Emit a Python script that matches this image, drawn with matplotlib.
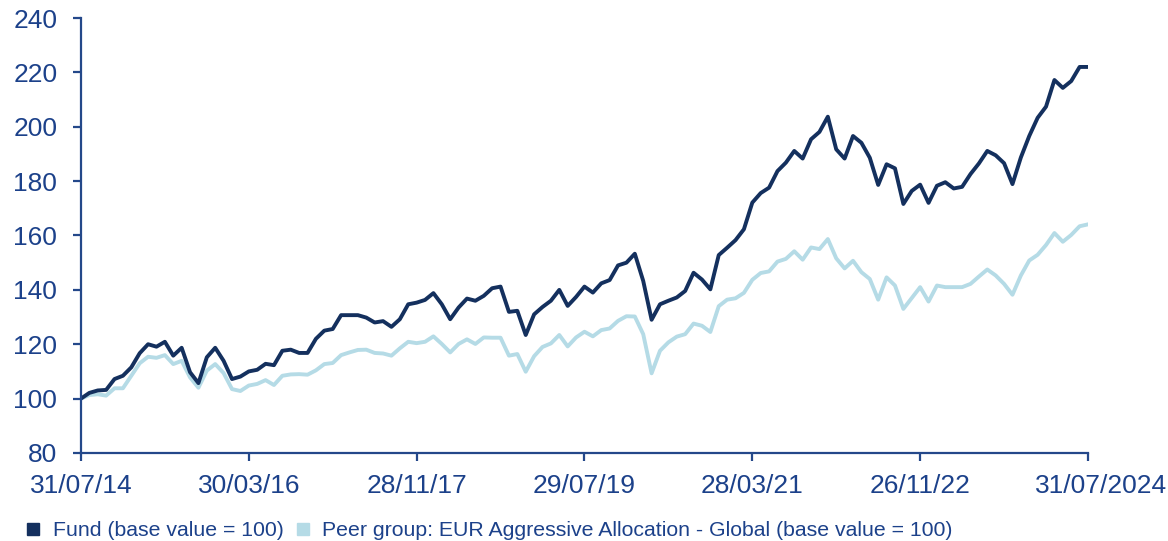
import matplotlib
matplotlib.use('Agg')
import matplotlib.pyplot as plt
import matplotlib.transforms as mtransforms
from matplotlib.lines import Line2D

plt.rcParams['font.family'] = ['Liberation Sans', 'DejaVu Sans']

# monthly index values, 31/07/2014 .. 31/07/2024
fund = [100.0, 102.1, 103.0, 103.2, 107.2, 108.4, 111.5, 116.7, 120.0, 119.1,
        120.9, 115.8, 118.7, 109.7, 105.7, 115.2, 118.7, 113.9, 107.2, 108.1,
        110.0, 110.6, 112.8, 112.3, 117.6, 118.0, 116.8, 116.8, 122.0, 125.0,
        125.6, 130.7, 130.7, 130.7, 129.8, 128.0, 128.5, 126.4, 129.2, 134.7,
        135.3, 136.3, 138.8, 134.7, 129.2, 133.5, 136.8, 136.0, 137.8, 140.6,
        141.2, 131.9, 132.3, 123.4, 131.0, 133.7, 136.0, 140.0, 134.1, 137.4,
        141.2, 139.0, 142.4, 143.6, 149.0, 150.0, 153.3, 143.3, 129.0, 134.7,
        136.0, 137.2, 139.6, 146.3, 143.8, 140.2, 152.8, 155.5, 158.3, 162.3,
        172.1, 175.6, 177.6, 183.7, 186.8, 191.1, 188.3, 195.4, 198.1, 203.7,
        191.7, 188.3, 196.6, 194.1, 188.6, 178.6, 186.2, 184.7, 171.6, 176.4,
        178.7, 172.0, 178.3, 179.6, 177.3, 177.9, 182.6, 186.5, 191.1, 189.5,
        186.6, 178.9, 188.7, 196.6, 203.3, 207.4, 217.2, 214.3, 216.8, 222.0,
        222.0]

peer = [100.0, 101.3, 101.6, 101.1, 103.8, 103.8, 108.4, 113.0, 115.4, 115.0,
        116.0, 112.7, 113.9, 107.8, 104.0, 110.3, 112.7, 109.4, 103.5, 102.8,
        104.8, 105.4, 106.8, 105.0, 108.4, 108.9, 109.0, 108.8, 110.4, 112.7,
        113.1, 116.0, 117.0, 117.9, 118.0, 116.8, 116.6, 115.8, 118.5, 120.9,
        120.4, 120.9, 122.9, 120.1, 117.0, 120.1, 121.8, 120.1, 122.5, 122.4,
        122.4, 115.8, 116.4, 109.9, 115.6, 119.0, 120.3, 123.4, 119.2, 122.5,
        124.6, 122.9, 125.2, 125.8, 128.6, 130.3, 130.2, 123.7, 109.3, 117.6,
        120.7, 122.8, 123.7, 127.6, 126.8, 124.5, 134.0, 136.4, 136.9, 138.9,
        143.7, 146.2, 146.8, 150.4, 151.4, 154.2, 151.1, 155.6, 155.0, 158.7,
        151.6, 147.9, 150.7, 146.5, 144.0, 136.4, 144.6, 141.6, 133.0, 137.0,
        141.0, 135.7, 141.6, 141.0, 141.0, 141.0, 142.2, 144.9, 147.5, 145.3,
        142.2, 138.2, 145.3, 150.8, 152.9, 156.5, 160.9, 157.7, 160.2, 163.4,
        164.1]

tick_pos = [0, 20, 40, 60, 80, 100, 120]
tick_labels = ['31/07/14', '30/03/16', '28/11/17', '29/07/19', '28/03/21', '26/11/22', '31/07/2024']
y_ticks = [80, 100, 120, 140, 160, 180, 200, 220, 240]

fund_color = '#14305e'
peer_color = '#b5dbe6'
axis_color = '#24488a'
text_color = '#1c418a'

fig = plt.figure(figsize=(11.68, 5.41), dpi=100)
ax = fig.add_axes([0.0693, 0.1627, 0.8622, 0.804])

months = list(range(len(fund)))
ax.plot(months, peer, color=peer_color, lw=2.8, solid_joinstyle='round')
ax.plot(months, fund, color=fund_color, lw=2.8, solid_joinstyle='round')

ax.set_xlim(0, 120)
ax.set_ylim(80, 240)
ax.set_xticks(tick_pos)
ax.set_xticklabels(tick_labels)
ax.set_yticks(y_ticks)

for s in ['top', 'right']:
    ax.spines[s].set_visible(False)
for s in ['left', 'bottom']:
    ax.spines[s].set_color(axis_color)
    ax.spines[s].set_linewidth(1.6)

ax.tick_params(axis='x', direction='out', length=6, width=1.6, color=axis_color,
               labelcolor=text_color, labelsize=19, pad=9)
ax.tick_params(axis='y', direction='out', length=6, width=1.6, color=axis_color,
               labelcolor=text_color, labelsize=19, pad=11)

# last date label sits a bit to the right
lbl = ax.get_xticklabels()[-1]
lbl.set_transform(lbl.get_transform() + mtransforms.ScaledTranslation(13 / 100, 0, fig.dpi_scale_trans))

handles = [Line2D([], [], marker='s', ls='none', color=fund_color, markersize=8.5),
           Line2D([], [], marker='s', ls='none', color=peer_color, markersize=8.5)]
labels = ['Fund (base value = 100)',
          'Peer group: EUR Aggressive Allocation - Global (base value = 100)']
fig.legend(handles, labels, loc='lower left', bbox_to_anchor=(0.0086, -0.026), ncol=2,
           frameon=False, fontsize=15.3, labelcolor=text_color, handlelength=0.8,
           handletextpad=0.5, columnspacing=0.5, borderpad=0.2)

fig.savefig('out.png', dpi=100)
